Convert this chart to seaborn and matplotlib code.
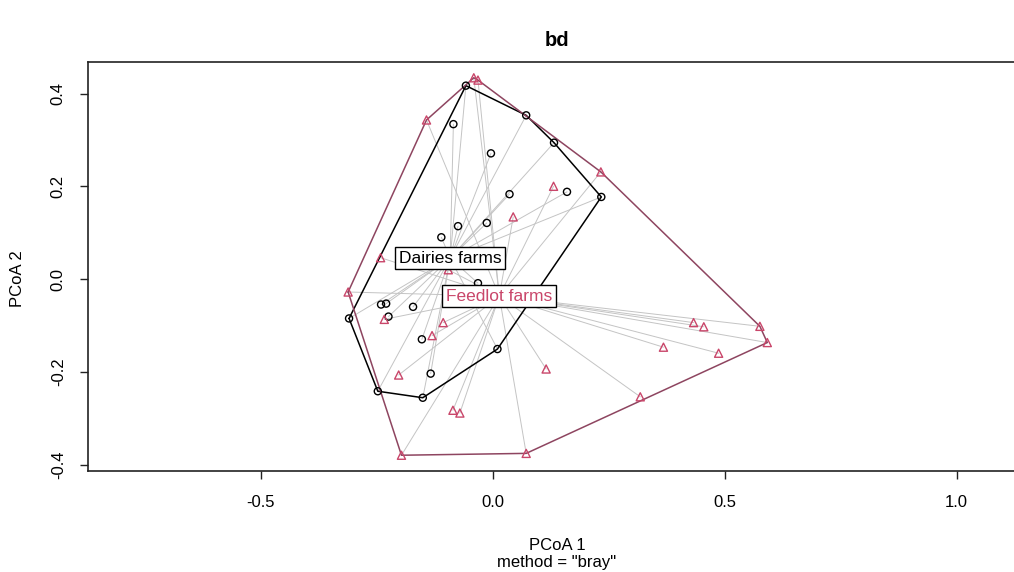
import numpy as np
import pandas as pd
import matplotlib
matplotlib.use("Agg")
import matplotlib.pyplot as plt
import seaborn as sns

# PCoA scores
dairies_x = [-0.058, 0.072, 0.132, 0.234, -0.085, -0.004, 0.036, 0.160, -0.013, -0.075,
             -0.111, -0.241, -0.230, -0.172, -0.310, -0.225, -0.153, 0.010, -0.134, -0.248,
             -0.151, -0.032]
dairies_y = [0.417, 0.353, 0.294, 0.177, 0.334, 0.271, 0.183, 0.188, 0.121, 0.114,
             0.090, -0.055, -0.053, -0.060, -0.085, -0.081, -0.130, -0.151, -0.204, -0.242,
             -0.256, -0.009]
feedlot_x = [-0.041, -0.032, -0.143, 0.233, 0.131, 0.044, -0.242, -0.096, -0.312, -0.234,
             -0.107, -0.131, -0.203, -0.086, -0.071, -0.197, 0.072, 0.115, 0.318, 0.368,
             0.433, 0.455, 0.487, 0.576, 0.592]
feedlot_y = [0.434, 0.429, 0.343, 0.231, 0.200, 0.134, 0.046, 0.020, -0.028, -0.087,
             -0.094, -0.122, -0.207, -0.283, -0.289, -0.380, -0.376, -0.194, -0.254, -0.147,
             -0.094, -0.103, -0.160, -0.102, -0.137]
group_names = ["Dairies farms", "Feedlot farms"]
centroid_x = [-0.092, 0.014]
centroid_y = [0.045, -0.037]
x_ticks = [-0.5, 0.0, 0.5, 1.0]
y_ticks = [-0.4, -0.2, 0.0, 0.2, 0.4]

colors = {"Dairies farms": "black", "Feedlot farms": "#C9466A"}
hull_colors = {"Dairies farms": "black", "Feedlot farms": "#8E4560"}
markers = {"Dairies farms": "o", "Feedlot farms": "^"}

df = pd.DataFrame({
    "PCoA1": dairies_x + feedlot_x,
    "PCoA2": dairies_y + feedlot_y,
    "group": [group_names[0]] * len(dairies_x) + [group_names[1]] * len(feedlot_x),
})
cent = pd.DataFrame({"PCoA1": centroid_x, "PCoA2": centroid_y, "group": group_names})


def convex_hull(pts):
    pts = sorted(set(pts))

    def cross(o, a, b):
        return (a[0] - o[0]) * (b[1] - o[1]) - (a[1] - o[1]) * (b[0] - o[0])

    lower, upper = [], []
    for p in pts:
        while len(lower) >= 2 and cross(lower[-2], lower[-1], p) <= 0:
            lower.pop()
        lower.append(p)
    for p in reversed(pts):
        while len(upper) >= 2 and cross(upper[-2], upper[-1], p) <= 0:
            upper.pop()
        upper.append(p)
    return lower[:-1] + upper[:-1]


sns.set_style("ticks")
plt.rcParams["font.family"] = ["Liberation Sans", "DejaVu Sans"]
plt.rcParams["text.color"] = "black"
plt.rcParams["xtick.color"] = "black"
plt.rcParams["ytick.color"] = "black"

fig = plt.figure(figsize=(10.14, 5.72), dpi=100)
ax = fig.add_axes([88 / 1014, 1 - 471 / 572, 1.0 - 88 / 1014, 409 / 572])

# spider segments to the group centroid
for g, cx, cy in zip(group_names, centroid_x, centroid_y):
    sub = df[df["group"] == g]
    for x, y in zip(sub["PCoA1"], sub["PCoA2"]):
        ax.plot([x, cx], [y, cy], color="#C4C4C4", lw=0.7, zorder=1)

# convex hulls
for g in group_names:
    sub = df[df["group"] == g]
    hull = convex_hull(list(zip(sub["PCoA1"], sub["PCoA2"])))
    hull.append(hull[0])
    hx, hy = zip(*hull)
    ax.plot(hx, hy, color=hull_colors[g], lw=1.1, zorder=2)

# centroids
sns.scatterplot(data=cent, x="PCoA1", y="PCoA2", hue="group", palette=colors,
                s=30, legend=False, ax=ax, zorder=3, edgecolor="none")

# sample points (open symbols)
for g in group_names:
    sub = df[df["group"] == g]
    sns.scatterplot(data=sub, x="PCoA1", y="PCoA2", marker=markers[g],
                    s=26 if g == group_names[0] else 34, legend=False, ax=ax, zorder=4)
    coll = ax.collections[-1]
    coll.set_facecolor("none")
    coll.set_edgecolor(colors[g])
    coll.set_linewidth(1.0)

# centroid labels
for g, cx, cy in zip(group_names, centroid_x, centroid_y):
    ax.text(cx, cy, g, ha="center", va="center", fontsize=12.5, color=colors[g], zorder=5,
            bbox=dict(boxstyle="square,pad=0.22", fc="white", ec="black", lw=1.0))

ax.set_xlim(-0.873, 1.124)
ax.set_ylim(-0.414, 0.468)
ax.set_xticks(x_ticks)
ax.set_xticklabels(["-0.5", "0.0", "0.5", "1.0"])
ax.set_yticks(y_ticks)
ax.set_yticklabels(["-0.4", "-0.2", "0.0", "0.2", "0.4"], rotation=90, va="center")
ax.tick_params(axis="both", direction="out", length=6, width=1, labelsize=12, color="#222222")
ax.tick_params(axis="x", pad=11)
ax.tick_params(axis="y", pad=10)
for side in ["left", "top", "bottom"]:
    ax.spines[side].set_linewidth(1.2)
    ax.spines[side].set_color("#222222")
ax.spines["right"].set_visible(False)
ax.set_xlabel("")
ax.set_ylabel("")

fig.text(557 / 1014, 1 - 40 / 572, "bd", ha="center", va="center", fontsize=14.5, fontweight="bold")
fig.text(557 / 1014, 1 - 545 / 572, "PCoA 1", ha="center", va="center", fontsize=12)
fig.text(557 / 1014, 1 - 563 / 572, 'method = "bray"', ha="center", va="center", fontsize=12)
fig.text(18 / 1014, 1 - 279 / 572, "PCoA 2", ha="center", va="center", fontsize=12, rotation=90)

fig.savefig("out.png", dpi=100)
